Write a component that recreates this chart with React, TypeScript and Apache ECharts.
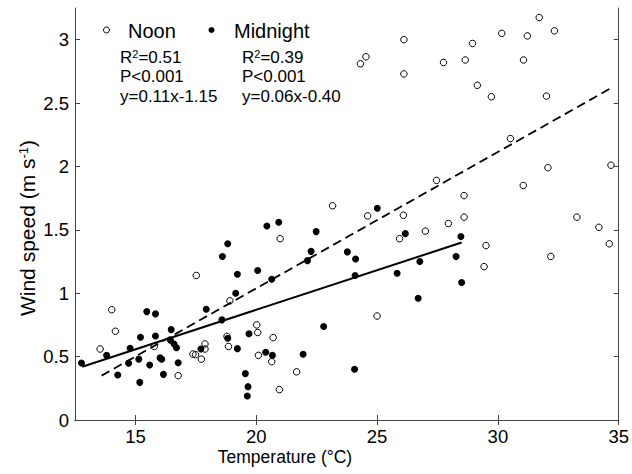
import React, { useEffect, useRef } from "react";
import * as echarts from "echarts";

// Noon (open circles)
const noonTemp = [
  13.54, 14.02, 14.17, 15.78, 16.77, 17.38, 17.49, 17.52, 17.73, 17.88, 17.88,
  18.79, 18.85, 18.91, 20.02, 20.06, 20.09, 20.7, 20.64, 20.96, 20.99, 21.67,
  23.16, 24.61, 25.0, 25.93, 26.09, 27.0, 27.46, 27.95, 28.6, 28.6, 29.51,
  29.43, 30.52, 31.05, 32.07, 32.19, 33.27, 34.18, 34.61, 34.68, 24.31, 24.54,
  26.11, 26.11, 27.75, 28.65, 28.95, 29.15, 29.73, 30.16, 31.06, 31.22, 31.71,
  32.34, 32.01,
];
const noonWind = [
  0.56, 0.87, 0.7, 0.58, 0.35, 0.52, 0.515, 1.14, 0.48, 0.6, 0.56,
  0.66, 0.58, 0.94, 0.75, 0.69, 0.51, 0.65, 0.46, 0.24, 1.43, 0.38,
  1.69, 1.61, 0.82, 1.43, 1.615, 1.49, 1.89, 1.55, 1.6, 1.77, 1.376,
  1.21, 2.22, 1.85, 1.99, 1.29, 1.6, 1.52, 1.39, 2.01, 2.81, 2.865,
  3.0, 2.73, 2.82, 2.84, 2.97, 2.64, 2.55, 3.05, 2.84, 3.03, 3.175,
  3.07, 2.555,
];

// Midnight (filled dots)
const midnightTemp = [
  12.77, 13.81, 14.27, 14.72, 14.78, 15.14, 15.18, 15.21, 15.47, 15.59, 15.83,
  15.83, 16.02, 16.09, 16.16, 16.48, 16.45, 16.6, 16.7, 16.77, 17.71, 17.93,
  18.6, 18.82, 18.58, 18.82, 19.22, 19.15, 19.22, 19.55, 19.66, 19.63, 19.7,
  20.06, 20.39, 20.64, 20.67, 21.94, 22.12, 22.27, 22.48, 22.79, 20.44, 20.93,
  23.77, 24.11, 24.09, 24.07, 25.01, 26.17, 25.83, 26.77, 26.7, 28.27, 28.47,
  28.5,
];
const midnightWind = [
  0.45, 0.51, 0.355, 0.447, 0.566, 0.48, 0.297, 0.653, 0.855, 0.434, 0.837,
  0.663, 0.49, 0.479, 0.36, 0.713, 0.63, 0.6, 0.57, 0.452, 0.56, 0.874,
  1.29, 1.39, 0.79, 0.645, 0.563, 1.0, 1.15, 0.366, 0.263, 0.19, 0.681,
  1.18, 0.534, 1.11, 0.51, 0.518, 1.257, 1.33, 1.486, 0.737, 1.53, 1.56,
  1.326, 1.27, 1.14, 0.4, 1.67, 1.47, 1.158, 1.25, 0.96, 1.29, 1.447,
  1.084,
];

// Regression line end points
const noonFitTemp = [13.6, 34.7];
const noonFitWind = [0.35, 2.62];
const midnightFitTemp = [12.8, 28.5];
const midnightFitWind = [0.42, 1.4];

const xTicks = [15, 20, 25, 30, 35];
const yTicks = [0, 0.5, 1, 1.5, 2, 2.5, 3];

const legendNames = ["Noon", "Midnight"];
const statsNoon = ["R{sup|2}=0.51", "P<0.001", "y=0.11x-1.15"];
const statsMidnight = ["R{sup|2}=0.39", "P<0.001", "y=0.06x-0.40"];

const FONT = "'Liberation Sans', Arial, sans-serif";
const AXIS_COLOR = "#444";

const zip = (a: number[], b: number[]) => a.map((v, i) => [v, b[i]]);

export default function App() {
  const ref = useRef<HTMLDivElement>(null);

  useEffect(() => {
    if (!ref.current) return;
    const chart = echarts.init(ref.current, undefined, { renderer: "svg" });

    const baseX = {
      type: "value" as const,
      min: 12.5,
      max: 35,
      splitLine: { show: false },
      axisLine: { show: true, lineStyle: { color: AXIS_COLOR, width: 1 } },
      axisTick: {
        show: true,
        inside: true,
        length: 5,
        customValues: xTicks,
        lineStyle: { color: AXIS_COLOR },
      },
    };
    const baseY = {
      type: "value" as const,
      min: 0,
      max: 3.25,
      splitLine: { show: false },
      axisLine: { show: true, lineStyle: { color: AXIS_COLOR, width: 1 } },
      axisTick: {
        show: true,
        inside: true,
        length: 5,
        customValues: yTicks,
        lineStyle: { color: AXIS_COLOR },
      },
    };

    const statText = (x: number, y: number, text: string) => ({
      type: "text",
      x,
      y,
      style: {
        text,
        fill: "#000",
        fontSize: 17,
        fontFamily: FONT,
        verticalAlign: "middle",
        align: "left",
        rich: {
          sup: { fontSize: 11, fontFamily: FONT, verticalAlign: "top", fill: "#000" },
        },
      },
    });

    chart.setOption({
      animation: false,
      backgroundColor: "#fff",
      grid: { left: 75, right: 13, top: 8, bottom: 54, containLabel: false },
      xAxis: [
        {
          ...baseX,
          position: "bottom",
          axisLabel: {
            show: true,
            customValues: xTicks,
            color: "#000",
            fontSize: 18.5,
            fontFamily: FONT,
            margin: 7,
          },
        },
        { ...baseX, position: "top", axisLabel: { show: false } },
      ],
      yAxis: [
        {
          ...baseY,
          position: "left",
          axisLabel: {
            show: true,
            customValues: yTicks,
            color: "#000",
            fontSize: 18.5,
            fontFamily: FONT,
            margin: 6,
            formatter: (v: number) => String(v),
          },
        },
        { ...baseY, position: "right", axisLabel: { show: false } },
      ],
      series: [
        {
          name: "Noon fit",
          type: "line",
          data: zip(noonFitTemp, noonFitWind),
          symbol: "none",
          lineStyle: { color: "#000", width: 1.8, type: [9, 5] },
          z: 1,
        },
        {
          name: "Midnight fit",
          type: "line",
          data: zip(midnightFitTemp, midnightFitWind),
          symbol: "none",
          lineStyle: { color: "#000", width: 2 },
          z: 1,
        },
        {
          name: legendNames[0],
          type: "scatter",
          data: zip(noonTemp, noonWind),
          symbol: "circle",
          symbolSize: 6.5,
          itemStyle: {
            color: "rgba(0,0,0,0)",
            borderColor: "#000",
            borderWidth: 1,
            opacity: 1,
          },
          z: 3,
        },
        {
          name: legendNames[1],
          type: "scatter",
          data: zip(midnightTemp, midnightWind),
          symbol: "circle",
          symbolSize: 7,
          itemStyle: { color: "#000", opacity: 1 },
          z: 4,
        },
      ],
      graphic: [
        {
          type: "circle",
          shape: { cx: 106.5, cy: 30, r: 3 },
          style: { fill: "none", stroke: "#000", lineWidth: 1 },
        },
        {
          type: "text",
          x: 128,
          y: 31,
          style: {
            text: legendNames[0],
            fill: "#000",
            fontSize: 20,
            fontFamily: FONT,
            verticalAlign: "middle",
          },
        },
        {
          type: "circle",
          shape: { cx: 211.5, cy: 30, r: 3 },
          style: { fill: "#000" },
        },
        {
          type: "text",
          x: 234,
          y: 31,
          style: {
            text: legendNames[1],
            fill: "#000",
            fontSize: 20,
            fontFamily: FONT,
            verticalAlign: "middle",
          },
        },
        ...statsNoon.map((t, i) => statText(120, 57 + i * 19.5, t)),
        ...statsMidnight.map((t, i) => statText(242, 57 + i * 19.5, t)),
        {
          type: "text",
          x: 285,
          y: 457,
          style: {
            text: "Temperature (°C)",
            fill: "#000",
            fontSize: 17.5,
            fontFamily: FONT,
            align: "center",
            verticalAlign: "middle",
          },
        },
        {
          type: "group",
          x: 27,
          y: 228,
          rotation: Math.PI / 2,
          children: [
            {
              type: "text",
              x: 0,
              y: 0,
              style: {
                text: "Wind speed (m s{sup|-1})",
                fill: "#000",
                fontSize: 21,
                fontFamily: FONT,
                align: "center",
                verticalAlign: "middle",
                rich: {
                  sup: { fontSize: 13, fontFamily: FONT, verticalAlign: "top", fill: "#000" },
                },
              },
            },
          ],
        },
      ],
    });

    return () => chart.dispose();
  }, []);

  return (
    <div
      ref={ref}
      style={{ position: "fixed", left: 0, top: 0, width: 632, height: 474 }}
    />
  );
}
